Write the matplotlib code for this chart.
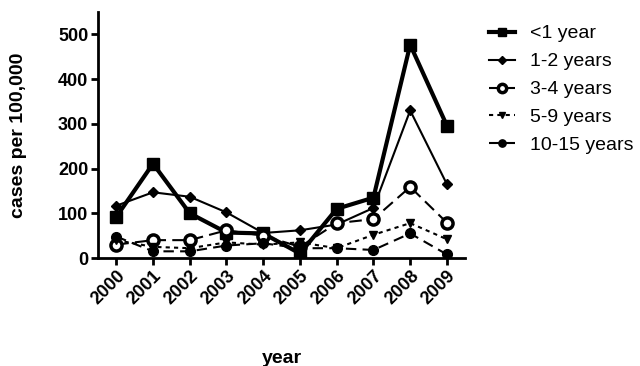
import numpy as np
import matplotlib
matplotlib.use('Agg')
from matplotlib import pyplot as plt

years = [2000, 2001, 2002, 2003, 2004, 2005, 2006, 2007, 2008, 2009]

under1 = [92, 211, 100, 57, 55, 10, 110, 135, 477, 296]
age1_2 = [117, 147, 137, 102, 56, 62, 75, 112, 330, 165]
age3_4 = [30, 40, 40, 62, 50, 25, 78, 87, 159, 79]
age5_9 = [40, 25, 22, 35, 30, 35, 22, 52, 78, 42]
age10_15 = [48, 15, 15, 28, 33, 22, 22, 18, 55, 8]

labels = ['<1 year', '1-2 years', '3-4 years', '5-9 years', '10-15 years']

plt.rcParams['font.family'] = ['Liberation Sans', 'DejaVu Sans']

fig = plt.figure(figsize=(6.4, 3.66), dpi=100)
ax = fig.add_axes([0.153, 0.295, 0.574, 0.672])

ax.plot(years, under1, color='black', lw=3, marker='s', ms=8,
        mfc='black', mec='black', label=labels[0])
ax.plot(years, age1_2, color='black', lw=1.5, marker='D', ms=5,
        label=labels[1])
ax.plot(years, age3_4, color='black', lw=1.5, ls=(0, (6, 3)), marker='o', ms=8,
        mfc='white', mec='black', mew=2.5, label=labels[2])
ax.plot(years, age5_9, color='black', lw=1.5, ls=(0, (2, 2)), marker='v', ms=6,
        label=labels[3])
ax.plot(years, age10_15, color='black', lw=1.5, ls=(0, (5, 3)), marker='o', ms=7,
        label=labels[4])

ax.set_xlim(1999.5, 2009.5)
ax.set_ylim(0, 550)
ax.set_xticks(years)
ax.set_xticklabels([str(y) for y in years], rotation=45, ha='right',
                   rotation_mode='anchor', fontweight='bold', fontsize=13)
ax.set_yticks([0, 100, 200, 300, 400, 500])
ax.set_yticklabels(['0', '100', '200', '300', '400', '500'], fontweight='bold', fontsize=13)

for s in ['top', 'right']:
    ax.spines[s].set_visible(False)
for s in ['left', 'bottom']:
    ax.spines[s].set_linewidth(2)
ax.tick_params(width=2, length=5, direction='out', pad=2)

ax.set_xlabel('year', fontweight='bold', fontsize=14, labelpad=30)
ax.set_ylabel('cases per 100,000', fontweight='bold', fontsize=14, labelpad=22)

fig.legend(loc='upper left', bbox_to_anchor=(0.764, 0.932), frameon=False,
           fontsize=14, handlelength=1.35, handletextpad=0.75,
           labelspacing=0.53, borderpad=0, borderaxespad=0, markerscale=0.75)

fig.savefig('out.png', dpi=100)
